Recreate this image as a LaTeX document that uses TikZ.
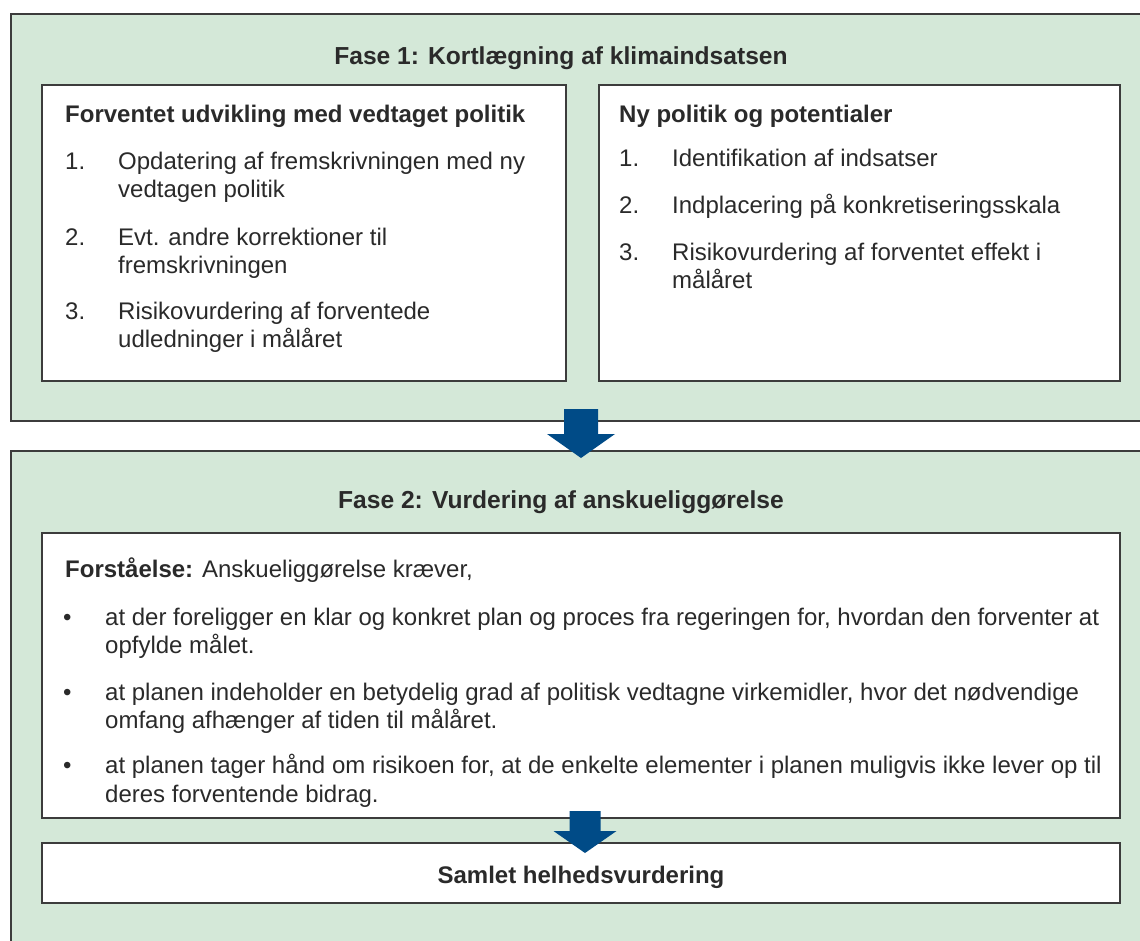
\documentclass[tikz,border=0pt]{standalone}
\usepackage{fontspec}
\setmainfont{Liberation Sans}
\definecolor{phasegreen}{HTML}{D4E8D8}
\definecolor{edgegray}{HTML}{3C3C3C}
\definecolor{txtgray}{HTML}{2A2A2A}
\definecolor{arrowblue}{HTML}{004B87}
\tikzset{
  phasebox/.style={draw=edgegray, line width=2pt, fill=phasegreen, inner sep=0pt, outer sep=0pt},
  innerbox/.style={draw=edgegray, line width=2pt, fill=white, inner sep=0pt, outer sep=0pt},
  txt/.style={anchor=base west, inner sep=0pt, text=txtgray, font=\fontsize{24}{28}\selectfont},
  hd/.style={txt, font=\fontsize{24}{28}\selectfont\bfseries},
  ttl/.style={anchor=base, inner sep=0pt, text=txtgray, font=\fontsize{24.6}{30}\selectfont\bfseries},
  ctr/.style={anchor=base, inner sep=0pt, text=txtgray, font=\fontsize{24}{28}\selectfont\bfseries},
  flowarrow/.style={fill=arrowblue, draw=none}
}
\begin{document}
\begin{tikzpicture}[x=1pt, y=-1pt]
\useasboundingbox (0,0) rectangle (1140,940);
\clip (0,0) rectangle (1140,940);
% phase boxes
\node[phasebox, minimum width=1160pt, minimum height=407pt] (fase1) at (591,217.5) {};
\node[phasebox, minimum width=1160pt, minimum height=520pt] (fase2) at (591,711) {};
% inner boxes
\node[innerbox, minimum width=524pt, minimum height=296pt] (left1) at (304,233) {};
\node[innerbox, minimum width=521pt, minimum height=296pt] (right1) at (859.5,233) {};
\node[innerbox, minimum width=1078pt, minimum height=285pt] (box2) at (581,675.5) {};
\node[innerbox, minimum width=1078pt, minimum height=60pt] (samlet) at (581,873) {};
% titles
\node[ttl] (t1) at (561,64) {Fase 1: Kortlægning af klimaindsatsen};
\node[ttl] (t2) at (561,508) {Fase 2: Vurdering af anskueliggørelse};
% left box
\node[hd] (lh) at (65,122) {Forventet udvikling med vedtaget politik};
\node[txt] (ln1) at (65,169) {1.};
\node[txt] (l1a) at (118,169) {Opdatering af fremskrivningen med ny};
\node[txt] (l1b) at (118,197) {vedtagen politik};
\node[txt] (ln2) at (65,245) {2.};
\node[txt] (l2a) at (118,245) {Evt. andre korrektioner til};
\node[txt] (l2b) at (118,273) {fremskrivningen};
\node[txt] (ln3) at (65,319) {3.};
\node[txt] (l3a) at (118,319) {Risikovurdering af forventede};
\node[txt] (l3b) at (118,347) {udledninger i målåret};
% right box
\node[hd] (rh) at (619,122) {Ny politik og potentialer};
\node[txt] (rn1) at (619,166) {1.};
\node[txt] (r1a) at (672,166) {Identifikation af indsatser};
\node[txt] (rn2) at (619,213) {2.};
\node[txt] (r2a) at (672,213) {Indplacering på konkretiseringsskala};
\node[txt] (rn3) at (619,260) {3.};
\node[txt] (r3a) at (672,260) {Risikovurdering af forventet effekt i};
\node[txt] (r3b) at (672,288) {målåret};
% box 2
\node[txt] (f2h) at (65,577) {\textbf{Forståelse:} Anskueliggørelse kræver,};
\node[txt] (b1) at (63,625) {•};
\node[txt] (b1a) at (105,625) {at der foreligger en klar og konkret plan og proces fra regeringen for, hvordan den forventer at};
\node[txt] (b1b) at (105,653) {opfylde målet.};
\node[txt] (b2) at (63,700) {•};
\node[txt] (b2a) at (105,700) {at planen indeholder en betydelig grad af politisk vedtagne virkemidler, hvor det nødvendige};
\node[txt] (b2b) at (105,728) {omfang afhænger af tiden til målåret.};
\node[txt] (b3) at (63,773) {•};
\node[txt] (b3a) at (105,773) {at planen tager hånd om risikoen for, at de enkelte elementer i planen muligvis ikke lever op til};
\node[txt] (b3b) at (105,802) {deres forventende bidrag.};
% samlet
\node[ctr] (st) at (581,883) {Samlet helhedsvurdering};
% arrows
\coordinate (a1) at (fase1.south -| 581,0);
\fill[flowarrow, shift={(a1)}] (-17,-12) -- (17,-12) -- (17,13) -- (34,13) -- (0,37) -- (-34,13) -- (-17,13) -- cycle;
\coordinate (a2) at (samlet.north -| 585,0);
\fill[flowarrow, shift={(a2)}] (-15.5,-32) -- (15.5,-32) -- (15.5,-12) -- (31.5,-12) -- (0,10) -- (-31.5,-12) -- (-15.5,-12) -- cycle;
\end{tikzpicture}
\end{document}
